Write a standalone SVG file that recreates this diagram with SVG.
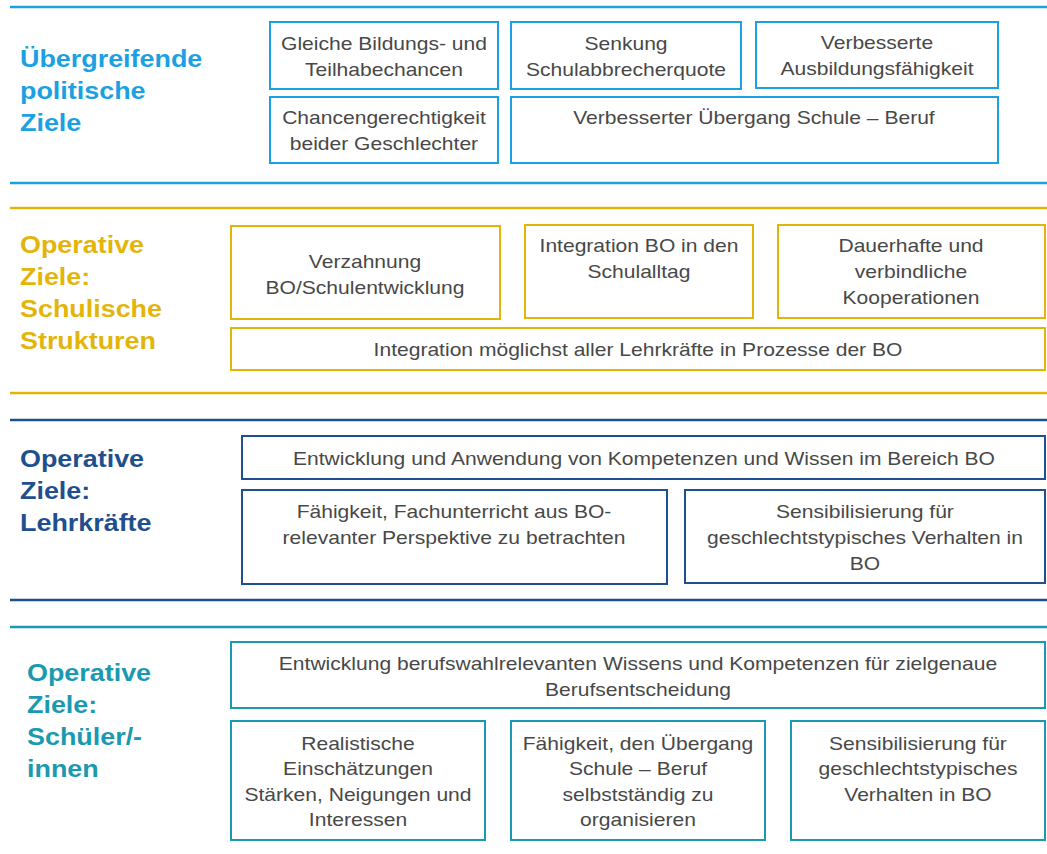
<svg xmlns="http://www.w3.org/2000/svg" width="1047" height="854" viewBox="0 0 1047 854">
<style>
text{font-family:"Liberation Sans",Arial,sans-serif}
.b{font-size:18px;fill:#484848;text-anchor:middle;transform-box:fill-box;transform-origin:center;transform:scaleX(1.17)}
.h{font-size:23px;font-weight:bold;transform-box:fill-box;transform-origin:left;transform:scaleX(1.17)}
rect{fill:#fff;stroke-width:2}
line{stroke-width:2.5}
.c1{stroke:#1ba1e2}.f1{fill:#1ba1e2}
.c2{stroke:#e3b50a}.f2{fill:#e3b50a}
.c3{stroke:#1f4f8e}.f3{fill:#1f4f8e}
.c4{stroke:#1a9ab0}.f4{fill:#1a9ab0}
</style>
<rect x="0" y="0" width="1047" height="854" fill="#fff" stroke="none"/>
<g id="connectors">
<line class="c1" x1="10" y1="7" x2="1047" y2="7"/>
<line class="c1" x1="10" y1="183" x2="1047" y2="183"/>
<line class="c2" x1="10" y1="208" x2="1047" y2="208"/>
<line class="c2" x1="10" y1="393" x2="1047" y2="393"/>
<line class="c3" x1="10" y1="420" x2="1047" y2="420"/>
<line class="c3" x1="10" y1="600" x2="1047" y2="600"/>
<line class="c4" x1="10" y1="627" x2="1047" y2="627"/>
</g>
<g id="title1" class="f1"><text class="h" x="20" y="67">Übergreifende</text><text class="h" x="20" y="99">politische</text><text class="h" x="20" y="131">Ziele</text></g>
<g id="n1a"><rect class="c1" x="270" y="22" width="228" height="67"/><text class="b" x="384" y="50">Gleiche Bildungs- und</text><text class="b" x="384" y="76">Teilhabechancen</text></g>
<g id="n1b"><rect class="c1" x="511" y="22" width="230" height="67"/><text class="b" x="626" y="50">Senkung</text><text class="b" x="626" y="76">Schulabbrecherquote</text></g>
<g id="n1c"><rect class="c1" x="756" y="22" width="242" height="66"/><text class="b" x="877" y="49">Verbesserte</text><text class="b" x="877" y="75">Ausbildungsfähigkeit</text></g>
<g id="n1d"><rect class="c1" x="270" y="97" width="228" height="66"/><text class="b" x="384" y="124">Chancengerechtigkeit</text><text class="b" x="384" y="150">beider Geschlechter</text></g>
<g id="n1e"><rect class="c1" x="511" y="97" width="487" height="66"/><text class="b" x="754" y="124">Verbesserter Übergang Schule – Beruf</text></g>
<g id="title2" class="f2"><text class="h" x="20" y="253">Operative</text><text class="h" x="20" y="285">Ziele:</text><text class="h" x="20" y="317">Schulische</text><text class="h" x="20" y="349">Strukturen</text></g>
<g id="n2a"><rect class="c2" x="231" y="226" width="269" height="93"/><text class="b" x="365" y="268">Verzahnung</text><text class="b" x="365" y="294">BO/Schulentwicklung</text></g>
<g id="n2b"><rect class="c2" x="525" y="225" width="228" height="93"/><text class="b" x="639" y="252">Integration BO in den</text><text class="b" x="639" y="278">Schulalltag</text></g>
<g id="n2c"><rect class="c2" x="778" y="225" width="267" height="93"/><text class="b" x="911" y="252">Dauerhafte und</text><text class="b" x="911" y="278">verbindliche</text><text class="b" x="911" y="304">Kooperationen</text></g>
<g id="n2d"><rect class="c2" x="231" y="328" width="814" height="42"/><text class="b" x="638" y="356">Integration möglichst aller Lehrkräfte in Prozesse der BO</text></g>
<g id="title3" class="f3"><text class="h" x="20" y="467">Operative</text><text class="h" x="20" y="499">Ziele:</text><text class="h" x="20" y="531">Lehrkräfte</text></g>
<g id="n3a"><rect class="c3" x="242" y="436" width="803" height="43"/><text class="b" x="644" y="465">Entwicklung und Anwendung von Kompetenzen und Wissen im Bereich BO</text></g>
<g id="n3b"><rect class="c3" x="242" y="490" width="425" height="94"/><text class="b" x="454" y="518">Fähigkeit, Fachunterricht aus BO-</text><text class="b" x="454" y="544">relevanter Perspektive zu betrachten</text></g>
<g id="n3c"><rect class="c3" x="685" y="490" width="360" height="93"/><text class="b" x="865" y="518">Sensibilisierung für</text><text class="b" x="865" y="544">geschlechtstypisches Verhalten in</text><text class="b" x="865" y="570">BO</text></g>
<g id="title4" class="f4"><text class="h" x="27" y="681">Operative</text><text class="h" x="27" y="713">Ziele:</text><text class="h" x="27" y="745">Schüler/-</text><text class="h" x="27" y="777">innen</text></g>
<g id="n4a"><rect class="c4" x="231" y="642" width="814" height="66"/><text class="b" x="638" y="670">Entwicklung berufswahlrelevanten Wissens und Kompetenzen für zielgenaue</text><text class="b" x="638" y="696">Berufsentscheidung</text></g>
<g id="n4b"><rect class="c4" x="231" y="721" width="254" height="119"/><text class="b" x="358" y="750">Realistische</text><text class="b" x="358" y="775">Einschätzungen</text><text class="b" x="358" y="801">Stärken, Neigungen und</text><text class="b" x="358" y="826">Interessen</text></g>
<g id="n4c"><rect class="c4" x="511" y="721" width="254" height="119"/><text class="b" x="638" y="750">Fähigkeit, den Übergang</text><text class="b" x="638" y="775">Schule – Beruf</text><text class="b" x="638" y="801">selbstständig zu</text><text class="b" x="638" y="826">organisieren</text></g>
<g id="n4d"><rect class="c4" x="791" y="721" width="254" height="119"/><text class="b" x="918" y="750">Sensibilisierung für</text><text class="b" x="918" y="775">geschlechtstypisches</text><text class="b" x="918" y="801">Verhalten in BO</text></g>
</svg>
